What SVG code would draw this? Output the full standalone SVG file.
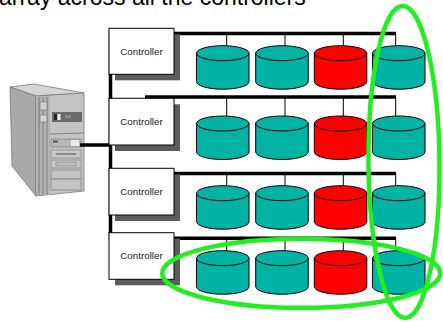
<svg xmlns="http://www.w3.org/2000/svg" xmlns:xlink="http://www.w3.org/1999/xlink" width="443" height="322" viewBox="0 0 443 322">
  <style>
    .title { font-family: "Liberation Sans", Arial, sans-serif; font-size: 23px; fill: #000; }
    .ctl-box { fill: #fff; stroke: #000; stroke-width: 1; }
    .ctl-shadow { fill: #5c5c5c; }
    .ctl-label { font-family: "Liberation Sans", Arial, sans-serif; font-size: 9.8px; fill: #222; text-anchor: middle; }
    .bus { stroke: #000; stroke-width: 3.5; fill: none; }
    .stem { stroke: #000; stroke-width: 1; fill: none; }
    .disk { stroke: #000; stroke-width: 1; }
    .ok { fill: #00b3a3; }
    .bad { fill: #ff0000; }
    .ring { fill: none; stroke: #22ee22; stroke-width: 4.5; }
    .pc-line { stroke: #6e6e6e; stroke-width: 0.8; }
  </style>
  <defs>
    <!-- one disk drive: body plus top face, fill supplied by the <use> -->
    <g id="cyl">
      <path class="disk" d="M0,7.5 V36 A26.25,7.5 0 0 0 52.5,36 V7.5 Z"/>
      <ellipse class="disk" cx="26.25" cy="7.5" rx="26.25" ry="7.5"/>
    </g>
  </defs>

  <text class="title" x="-1" y="5">array across all the controllers</text>

  <!-- host computer -->
  <g id="host">
    <polygon points="10,87 34,84 84,93 36,96" fill="#d6d6d6" stroke="#7a7a7a" stroke-width="0.8"/>
    <polygon points="10,87 36,96 36,196 12,166" fill="#a9a9a9" stroke="#7a7a7a" stroke-width="0.8"/>
    <polygon points="36,96 84,93 84,191 36,196" fill="#c4c4c4" stroke="#7a7a7a" stroke-width="0.8"/>
    <!-- ribbed strip -->
    <rect x="36" y="96" width="14" height="99" fill="#b4b4b4"/>
    <line class="pc-line" x1="39" y1="97" x2="39" y2="195"/>
    <line class="pc-line" x1="43" y1="97" x2="43" y2="195"/>
    <line class="pc-line" x1="47" y1="97" x2="47" y2="195"/>
    <rect x="40" y="102" width="7" height="8" fill="#cfcfcf" stroke="#777" stroke-width="0.6"/>
    <rect x="40" y="115" width="7" height="7" fill="#cfcfcf" stroke="#777" stroke-width="0.6"/>
    <!-- upper bay with drive slot -->
    <rect x="52" y="112" width="30" height="10" fill="#6a6a6a"/>
    <rect x="54" y="114" width="3" height="6" fill="#222"/>
    <rect x="57.5" y="114" width="3" height="6" fill="#eee"/>
    <rect x="65" y="115" width="6" height="3" fill="#8a8a8a"/>
    <line class="pc-line" x1="50" y1="134" x2="84" y2="133"/>
    <!-- lower bays -->
    <rect x="51" y="139" width="30" height="8" fill="#b8b8b8" stroke="#777" stroke-width="0.6"/>
    <rect x="53" y="140.5" width="5" height="2" fill="#555"/>
    <rect x="71" y="140" width="8" height="6" fill="#eaeaea"/>
    <rect x="51" y="150" width="30" height="8" fill="#c8c8c8" stroke="#777" stroke-width="0.6"/>
    <rect x="56" y="153" width="20" height="2" fill="#888"/>
    <rect x="51" y="160" width="30" height="8" fill="#c8c8c8" stroke="#777" stroke-width="0.6"/>
    <rect x="56" y="162" width="20" height="4" fill="#bdbdbd" stroke="#777" stroke-width="0.5"/>
    <rect x="51" y="170" width="30" height="9" fill="#c4c4c4" stroke="#777" stroke-width="0.6"/>
    <rect x="51" y="179" width="30" height="11" fill="#c4c4c4" stroke="#777" stroke-width="0.6"/>
  </g>

  <!-- connectors: host link, shared bus spine, per-controller buses and drive stems -->
  <g id="connectors">
    <line class="bus" x1="80" y1="145" x2="111" y2="145"/>
    <line class="bus" x1="110.5" y1="30" x2="110.5" y2="240" stroke-width="3"/>
    <line class="bus" x1="174" y1="33.5" x2="396" y2="33.5"/>
    <line class="bus" x1="145" y1="97" x2="396" y2="97"/>
    <line class="bus" x1="174" y1="173.5" x2="396" y2="173.5"/>
    <line class="bus" x1="174" y1="238.3" x2="396" y2="238.3"/>

    <line class="stem" x1="226.7" y1="33.5" x2="226.7" y2="53.2"/>
    <line class="stem" x1="285" y1="33.5" x2="285" y2="53.2"/>
    <line class="stem" x1="343.3" y1="33.5" x2="343.3" y2="53.2"/>
    <line class="stem" x1="395.7" y1="33.5" x2="395.7" y2="53.2"/>

    <line class="stem" x1="226.7" y1="97" x2="226.7" y2="123.5"/>
    <line class="stem" x1="285" y1="97" x2="285" y2="123.5"/>
    <line class="stem" x1="343.3" y1="97" x2="343.3" y2="123.5"/>
    <line class="stem" x1="395.7" y1="97" x2="395.7" y2="123.5"/>

    <line class="stem" x1="226.7" y1="173.5" x2="226.7" y2="193.2"/>
    <line class="stem" x1="285" y1="173.5" x2="285" y2="193.2"/>
    <line class="stem" x1="343.3" y1="173.5" x2="343.3" y2="193.2"/>
    <line class="stem" x1="395.7" y1="173.5" x2="395.7" y2="193.2"/>

    <line class="stem" x1="226.7" y1="238.3" x2="226.7" y2="258.2"/>
    <line class="stem" x1="285" y1="238.3" x2="285" y2="258.2"/>
    <line class="stem" x1="343.3" y1="238.3" x2="343.3" y2="258.2"/>
    <line class="stem" x1="395.7" y1="238.3" x2="395.7" y2="258.2"/>
  </g>

  <!-- controllers -->
  <g id="controller-1">
    <rect class="ctl-shadow" x="115" y="34.3" width="65" height="46"/>
    <rect class="ctl-box" x="109" y="28.3" width="65" height="46"/>
    <text class="ctl-label" x="141.5" y="54.8">Controller</text>
  </g>
  <g id="controller-2">
    <rect class="ctl-shadow" x="115" y="104.3" width="65" height="46.7"/>
    <rect class="ctl-box" x="109" y="98.3" width="65" height="46.7"/>
    <text class="ctl-label" x="141.5" y="125">Controller</text>
  </g>
  <g id="controller-3">
    <rect class="ctl-shadow" x="115" y="174.3" width="65" height="46.7"/>
    <rect class="ctl-box" x="109" y="168.3" width="65" height="46.7"/>
    <text class="ctl-label" x="141.5" y="195">Controller</text>
  </g>
  <g id="controller-4">
    <rect class="ctl-shadow" x="115" y="238.7" width="65" height="46.6"/>
    <rect class="ctl-box" x="109" y="232.7" width="65" height="46.6"/>
    <text class="ctl-label" x="141.5" y="259.3">Controller</text>
  </g>

  <!-- disks, row by row -->
  <g id="disks-row-1">
    <use xlink:href="#cyl" href="#cyl" class="ok" x="196.5" y="45.7"/>
    <use xlink:href="#cyl" href="#cyl" class="ok" x="255.7" y="45.7"/>
    <use xlink:href="#cyl" href="#cyl" class="bad" x="314.3" y="45.7"/>
    <use xlink:href="#cyl" href="#cyl" class="ok" x="372.5" y="45.7"/>
  </g>
  <g id="disks-row-2">
    <use xlink:href="#cyl" href="#cyl" class="ok" x="196.5" y="116"/>
    <use xlink:href="#cyl" href="#cyl" class="ok" x="255.7" y="116"/>
    <use xlink:href="#cyl" href="#cyl" class="bad" x="314.3" y="116"/>
    <use xlink:href="#cyl" href="#cyl" class="ok" x="372.5" y="116"/>
  </g>
  <g id="disks-row-3">
    <use xlink:href="#cyl" href="#cyl" class="ok" x="196.5" y="185.7"/>
    <use xlink:href="#cyl" href="#cyl" class="ok" x="255.7" y="185.7"/>
    <use xlink:href="#cyl" href="#cyl" class="bad" x="314.3" y="185.7"/>
    <use xlink:href="#cyl" href="#cyl" class="ok" x="372.5" y="185.7"/>
  </g>
  <g id="disks-row-4">
    <use xlink:href="#cyl" href="#cyl" class="ok" x="196.5" y="250.7"/>
    <use xlink:href="#cyl" href="#cyl" class="ok" x="255.7" y="250.7"/>
    <use xlink:href="#cyl" href="#cyl" class="bad" x="314.3" y="250.7"/>
    <use xlink:href="#cyl" href="#cyl" class="ok" x="372.5" y="250.7"/>
  </g>

  <!-- highlight rings: one controller's drives, and one drive position across controllers -->
  <g id="highlight-row">
    <ellipse class="ring" cx="301.3" cy="273.3" rx="139" ry="34.5"/>
  </g>
  <g id="highlight-column">
    <ellipse class="ring" cx="404" cy="162" rx="35.5" ry="156" transform="rotate(-0.5 404 162)"/>
  </g>
</svg>
